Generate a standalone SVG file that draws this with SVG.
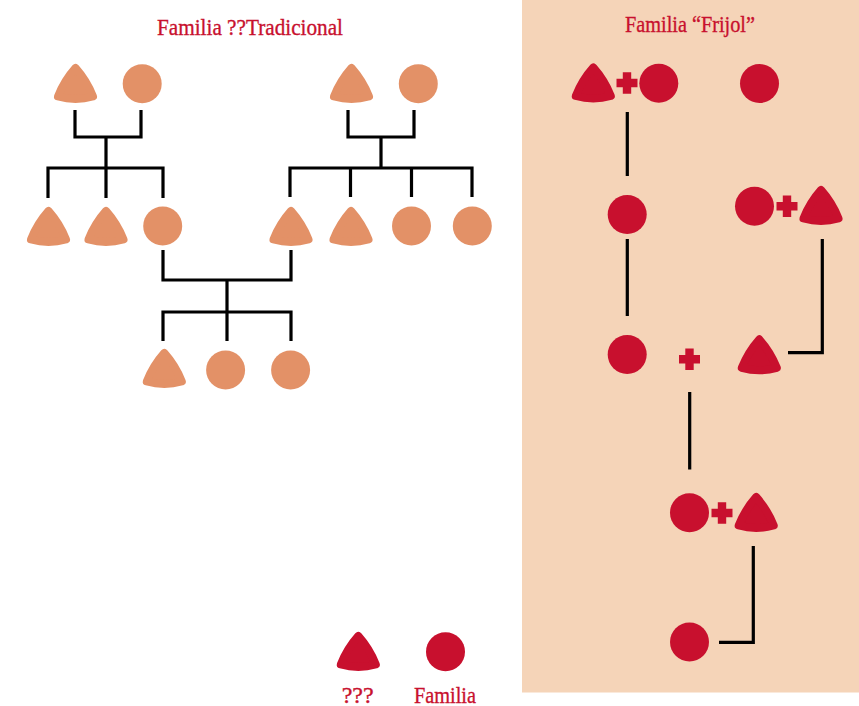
<svg xmlns="http://www.w3.org/2000/svg" xmlns:xlink="http://www.w3.org/1999/xlink" width="859" height="706" viewBox="0 0 859 706">
<style>
.o{fill:#E39167}
.r{fill:#C8102E}
.tr{stroke-width:8;stroke-linejoin:round}
.tr.o{stroke:#E39167}
.tr.r{stroke:#C8102E}
.ln{fill:none;stroke:#000;stroke-width:3.2;stroke-linecap:butt;stroke-linejoin:miter}
.t{font-family:"Liberation Serif","DejaVu Serif",serif;font-size:24px;fill:#C8102E;stroke:#C8102E;stroke-width:0.35;text-anchor:middle}
</style>
<defs>
<path id="tri" d="M0 4 Q11.3 16.7 17.5 32.5 Q0 37.5 -17.5 32.5 Q-11.3 16.7 0 4 Z"/>
<path id="plus" d="M-4.2 -10.8 H4.2 V-4.2 H10.5 V4.2 H4.2 V10.8 H-4.2 V4.2 H-10.5 V-4.2 H-4.2 Z"/>
</defs>
<rect x="0" y="0" width="859" height="706" fill="#FFFFFF"/>
<rect id="panel" x="522" y="0" width="337" height="692.5" fill="#F5D4B8"/>
<text class="t" x="250" y="35" textLength="186" lengthAdjust="spacingAndGlyphs">Familia ??Tradicional</text>
<text class="t" x="690" y="32" textLength="130" lengthAdjust="spacingAndGlyphs">Familia “Frijol”</text>
<g id="connectors">
<path class="ln" d="M75 110 V137 H141 V110 M106 137 V168 M48 198 V168 H163 V198 M106 168 V198"/>
<path class="ln" d="M348 110 V137 H414 V110 M381 137 V168 M290 197 V168 H472 V197 M350.5 168 V197 M411.5 168 V197"/>
<path class="ln" d="M163 250 V280 H291 V250 M227 280 V341 M163 341 V312 H291 V341"/>
<path class="ln" d="M627.3 112 V176 M627.3 239 V316 M822.3 239 V352.7 H788 M689.7 392 V469.5 M753.3 546 V642.3 H719"/>
</g>
<g id="trad-g1-a"><use xlink:href="#tri" class="o tr" x="75.5" y="64"/></g>
<g id="trad-g1-b"><circle class="o" cx="142.2" cy="83.7" r="19.5"/></g>
<g id="trad-g1-c"><use xlink:href="#tri" class="o tr" x="351.5" y="64"/></g>
<g id="trad-g1-d"><circle class="o" cx="418.3" cy="83.7" r="19.5"/></g>
<g id="trad-g2-a"><use xlink:href="#tri" class="o tr" x="48.5" y="207"/></g>
<g id="trad-g2-b"><use xlink:href="#tri" class="o tr" x="106" y="207"/></g>
<g id="trad-g2-c"><circle class="o" cx="162.7" cy="226" r="19.5"/></g>
<g id="trad-g2-d"><use xlink:href="#tri" class="o tr" x="291" y="207"/></g>
<g id="trad-g2-e"><use xlink:href="#tri" class="o tr" x="351" y="207"/></g>
<g id="trad-g2-f"><circle class="o" cx="411.5" cy="226" r="19.5"/></g>
<g id="trad-g2-g"><circle class="o" cx="472.3" cy="226" r="19.5"/></g>
<g id="trad-g3-a"><use xlink:href="#tri" class="o tr" x="164.3" y="349"/></g>
<g id="trad-g3-b"><circle class="o" cx="225.6" cy="370" r="19.5"/></g>
<g id="trad-g3-c"><circle class="o" cx="290.6" cy="370" r="19.5"/></g>
<g id="frijol-r1-a"><use xlink:href="#tri" class="r tr" x="593.3" y="63.5"/><use xlink:href="#plus" class="r" x="627" y="83"/><circle class="r" cx="658.8" cy="83.3" r="19.5"/></g>
<g id="frijol-r1-b"><circle class="r" cx="759.5" cy="83.5" r="19.5"/></g>
<g id="frijol-r2-a"><circle class="r" cx="627.2" cy="214.5" r="19.5"/></g>
<g id="frijol-r2-b"><circle class="r" cx="754.5" cy="206.2" r="19.5"/><use xlink:href="#plus" class="r" x="787" y="206.3"/><use xlink:href="#tri" class="r tr" x="821" y="186"/></g>
<g id="frijol-r3-a"><circle class="r" cx="627.2" cy="354.5" r="19.5"/></g>
<g id="frijol-r3-plus"><use xlink:href="#plus" class="r" x="689.5" y="359.2"/></g>
<g id="frijol-r3-b"><use xlink:href="#tri" class="r tr" x="759.3" y="335.3"/></g>
<g id="frijol-r4"><circle class="r" cx="689.5" cy="512.8" r="19.5"/><use xlink:href="#plus" class="r" x="722" y="513"/><use xlink:href="#tri" class="r tr" x="756.2" y="493"/></g>
<g id="frijol-r5"><circle class="r" cx="689.5" cy="642" r="19.5"/></g>
<g id="legend-tri"><use xlink:href="#tri" class="r tr" x="358.3" y="632"/><text class="t" x="357.7" y="703">???</text></g>
<g id="legend-circle"><circle class="r" cx="445.5" cy="651.7" r="19.5"/><text class="t" x="445" y="703" textLength="62" lengthAdjust="spacingAndGlyphs">Familia</text></g>
</svg>
